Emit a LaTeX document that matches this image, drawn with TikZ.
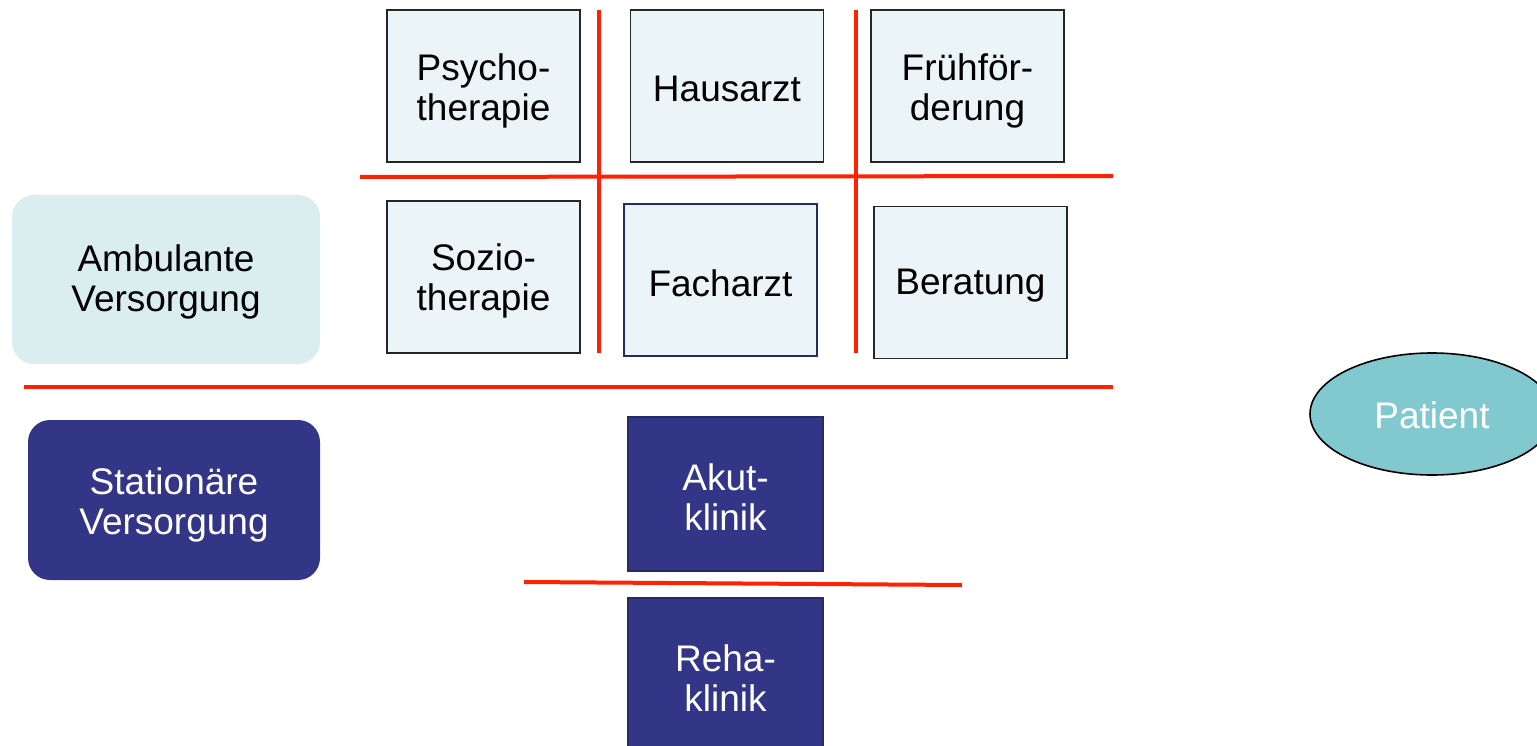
\documentclass[tikz,border=0pt]{standalone}
\usepackage{fontspec}
\setmainfont{Liberation Sans}
\usetikzlibrary{shapes.geometric}
\definecolor{boxfill}{HTML}{EBF4F6}
\definecolor{ambfill}{HTML}{DAEEF0}
\definecolor{navy}{HTML}{333686}
\definecolor{navyline}{HTML}{262A66}
\definecolor{redline}{HTML}{FF2200}
\definecolor{patfill}{HTML}{82C9CF}
\tikzset{
  lbl/.style={align=center, inner sep=0pt, font=\fontsize{37}{40}\selectfont},
  lightbox/.style={draw=black!85, line width=1.6pt, fill=boxfill, minimum width=193pt, minimum height=152pt, inner sep=0pt},
  darkbox/.style={draw=navyline, line width=1.6pt, fill=navy, minimum width=195pt, minimum height=154pt, inner sep=0pt},
  sepline/.style={draw=redline, line width=4pt},
  groupbox/.style={rounded corners=22pt, inner sep=0pt},
}
\begin{document}
\begin{tikzpicture}[x=1pt,y=-1pt]
\useasboundingbox (0,0) rectangle (1537,746);
\begin{scope}
\clip (0,0) rectangle (1537,746);
% group boxes
\node[groupbox, fill=ambfill, minimum width=308pt, minimum height=169pt,
  label={[lbl, yshift=-2pt]center:Ambulante\\Versorgung}] (amb) at (166,279.5) {};
\node[groupbox, fill=navy, minimum width=292pt, minimum height=160pt,
  label={[lbl, text=white, yshift=-5pt]center:Stationäre\\Versorgung}] (stat) at (174,500) {};
% light boxes
\node[lightbox, label={[lbl, yshift=-5pt]center:Psycho-\\therapie}] (psy) at (483.5,86) {};
\node[lightbox, label={[lbl, yshift=-3pt]center:Hausarzt}] (haus) at (727,86) {};
\node[lightbox, label={[lbl, yshift=-5pt]center:Frühför-\\derung}] (fruh) at (967.5,86) {};
\node[lightbox, label={[lbl, yshift=-4pt]center:Sozio-\\therapie}] (soz) at (483.5,277) {};
\node[lightbox, draw=navyline, label={[lbl, yshift=-3pt]center:Facharzt}] (fach) at (720.5,280) {};
\node[lightbox, label={[lbl, yshift=-3pt]center:Beratung}] (ber) at (970.5,282.5) {};
% dark boxes
\node[darkbox, label={[lbl, text=white, yshift=-3pt]center:Akut-\\klinik}] (akut) at (725.5,494) {};
\node[darkbox, minimum height=160pt, label={[lbl, text=white, yshift=0pt]center:Reha-\\klinik}] (reha) at (725.5,678) {};
% patient
\node[ellipse, draw=black, line width=1.6pt, fill=patfill, minimum width=244pt, minimum height=122pt, inner sep=0pt,
  label={[lbl, text=white, yshift=-1pt]center:Patient}] (pat) at (1432,414) {};
% separators
\coordinate (h1a) at (360,177); \coordinate (h1b) at (1113,176);
\coordinate (v1a) at (599,10); \coordinate (v1b) at (599,353);
\coordinate (v2a) at (856,10); \coordinate (v2b) at (856,353);
\coordinate (h2a) at (24,387); \coordinate (h2b) at (1113,387);
\coordinate (h3a) at (524,582); \coordinate (h3b) at (962,585);
\draw[sepline] (h1a) -- (h1b);
\draw[sepline] (v1a) -- (v1b);
\draw[sepline] (v2a) -- (v2b);
\draw[sepline] (h2a) -- (h2b);
\draw[sepline] (h3a) -- (h3b);
\end{scope}
\end{tikzpicture}
\end{document}
